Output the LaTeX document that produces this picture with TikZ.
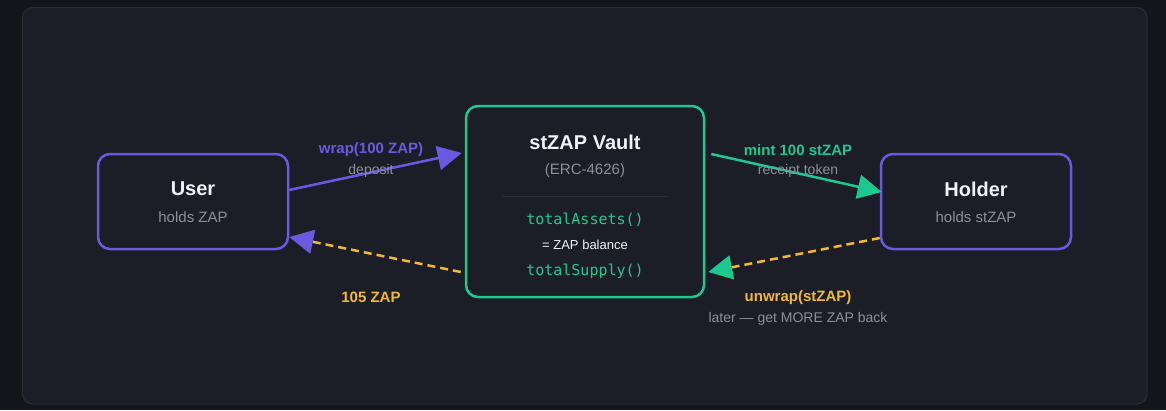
\documentclass[tikz,border=0pt]{standalone}
\usepackage{fontspec}
\setmainfont{Liberation Sans}
\newfontfamily\monofont{DejaVu Sans Mono}
\usetikzlibrary{arrows.meta}
\definecolor{outerbg}{HTML}{13151B}
\definecolor{panelbg}{HTML}{1B1D27}
\definecolor{panelline}{HTML}{2A2D38}
\definecolor{purp}{HTML}{6A5AE0}
\definecolor{teal}{HTML}{1CC98F}
\definecolor{yel}{HTML}{F2B92E}
\definecolor{graytxt}{HTML}{8C909C}
\definecolor{whitetxt}{HTML}{F2F3F7}
\tikzset{
  box/.style={draw, line width=2.5pt, rounded corners=12pt, fill=panelbg, minimum width=#1},
  title/.style={text=whitetxt, font=\fontsize{20}{24}\selectfont\bfseries, inner sep=0pt},
  sub/.style={text=graytxt, font=\fontsize{15}{18}\selectfont, inner sep=0pt},
  lbl/.style={font=\fontsize{15}{18}\selectfont\bfseries, inner sep=0pt},
  sublbl/.style={text=graytxt, font=\fontsize{14}{17}\selectfont, inner sep=0pt},
  code/.style={text=teal, font=\fontsize{15}{18}\selectfont\monofont, inner sep=0pt},
  flow/.style={line width=2.5pt, -{Triangle[length=24pt 0 0,width=24pt 0 0]}},
  ret/.style={line width=2.5pt, dash pattern=on 8pt off 5pt},
}
\begin{document}
\begin{tikzpicture}[x=1pt,y=-1pt]
\useasboundingbox (0,0) rectangle (1166,410);
\fill[outerbg] (0,0) rectangle (1166,410);
\draw[panelline, fill=panelbg, line width=1pt, rounded corners=10pt] (22.5,7.5) rectangle (1147,404);

% nodes
\node[box=190pt, draw=purp, minimum height=95pt] (user) at (193,201.5) {};
\node[box=238pt, draw=teal, minimum height=191pt] (vault) at (585,201.5) {};
\node[box=190pt, draw=purp, minimum height=95pt] (holder) at (976,201.5) {};

\node[title] (usert) at (193,189) {User};
\node[sub] (users) at (193,217) {holds ZAP};
\node[title] (holdert) at (976,189) {Holder};
\node[sub] (holders) at (976,217) {holds stZAP};

\node[title] (vaultt) at (585,142) {stZAP Vault};
\node[sub] (vaults) at (585,171) {(ERC-4626)};
\coordinate (sepl) at (502,196);
\coordinate (sepr) at (668,196);
\draw[panelline, line width=1pt] (sepl) -- (sepr);
\node[code] (ta) at (585,220) {totalAssets()};
\node[text=whitetxt, font=\fontsize{13}{16}\selectfont, inner sep=0pt] (zb) at (585,245) {= ZAP balance};
\node[code] (ts) at (585,271) {totalSupply()};

% connectors
\draw[flow, purp] ([yshift=11.5pt]user.east) -- ([xshift=-3pt,yshift=48.5pt]vault.west);
\draw[flow, teal] ([xshift=6pt,yshift=47.5pt]vault.east) -- ([xshift=2pt,yshift=9.5pt]holder.west);
\draw[ret, yel, -{Triangle[length=24pt 0 0,width=24pt 0 0,fill=teal,color=teal]}] ([yshift=-36.5pt]holder.west) -- ([xshift=3pt,yshift=-70.5pt]vault.east);
\draw[ret, yel, -{Triangle[length=24pt 0 0,width=24pt 0 0,fill=purp,color=purp]}] ([xshift=-4pt,yshift=-70.5pt]vault.west) -- ([yshift=-35.5pt]user.east);

% labels
\node[lbl, text=purp] (wrapl) at (371,150) {wrap(100 ZAP)};
\node[sublbl] (wraps) at (371,171) {deposit};
\node[lbl, text=teal] (mintl) at (798,150) {mint 100 stZAP};
\node[sublbl] (mints) at (798,171) {receipt token};
\node[lbl, text=yel] (retl) at (371,297) {105 ZAP};
\node[lbl, text=yel] (unwl) at (798,298) {unwrap(stZAP)};
\node[sublbl] (unws) at (798,319) {later — get MORE ZAP back};
\end{tikzpicture}
\end{document}
